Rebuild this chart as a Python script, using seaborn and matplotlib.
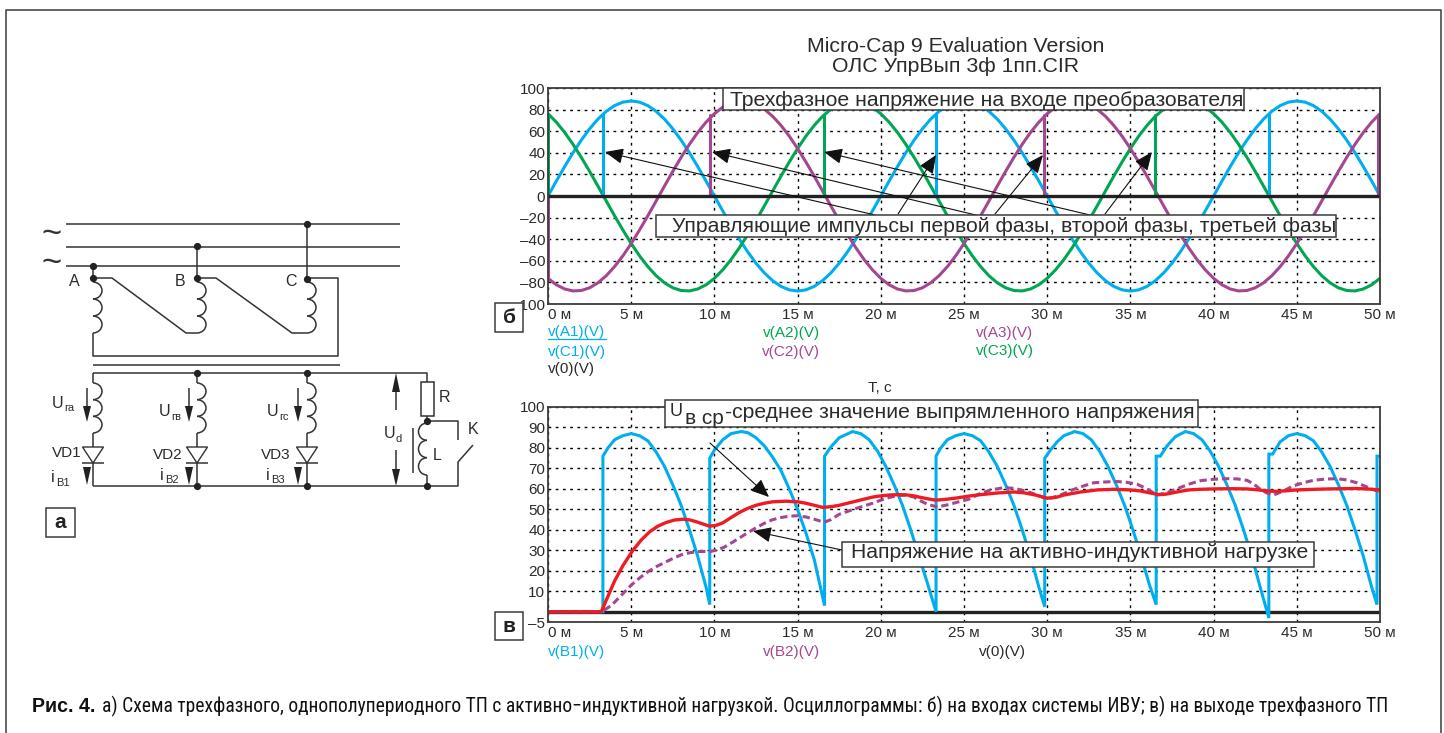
import numpy as np
import matplotlib
matplotlib.use("Agg")
import matplotlib.pyplot as plt
from matplotlib.patches import Rectangle, Arc, Polygon
import seaborn as sns

# ---------- data ----------
top_t = [i * 0.5 for i in range(101)]
v_a1 = [0,13.8,27.2,40,51.7,62.2,71.2,78.4,83.7,86.9,88,86.9,83.7,78.4,71.2,62.2,51.7,40,27.2,13.8,
        0,-13.8,-27.2,-40,-51.7,-62.2,-71.2,-78.4,-83.7,-86.9,-88,-86.9,-83.7,-78.4,-71.2,-62.2,-51.7,-40,-27.2,-13.8,
        0,13.8,27.2,40,51.7,62.2,71.2,78.4,83.7,86.9,88,86.9,83.7,78.4,71.2,62.2,51.7,40,27.2,13.8,
        0,-13.8,-27.2,-40,-51.7,-62.2,-71.2,-78.4,-83.7,-86.9,-88,-86.9,-83.7,-78.4,-71.2,-62.2,-51.7,-40,-27.2,-13.8,
        0,13.8,27.2,40,51.7,62.2,71.2,78.4,83.7,86.9,88,86.9,83.7,78.4,71.2,62.2,51.7,40,27.2,13.8,0]
v_a2 = [76.2,68.4,58.9,47.9,35.8,22.8,9.2,-4.6,-18.3,-31.5,-44,-55.4,-65.4,-73.8,-80.4,-85,-87.5,-87.9,-86.1,-82.2,
        -76.2,-68.4,-58.9,-47.9,-35.8,-22.8,-9.2,4.6,18.3,31.5,44,55.4,65.4,73.8,80.4,85,87.5,87.9,86.1,82.2,
        76.2,68.4,58.9,47.9,35.8,22.8,9.2,-4.6,-18.3,-31.5,-44,-55.4,-65.4,-73.8,-80.4,-85,-87.5,-87.9,-86.1,-82.2,
        -76.2,-68.4,-58.9,-47.9,-35.8,-22.8,-9.2,4.6,18.3,31.5,44,55.4,65.4,73.8,80.4,85,87.5,87.9,86.1,82.2,
        76.2,68.4,58.9,47.9,35.8,22.8,9.2,-4.6,-18.3,-31.5,-44,-55.4,-65.4,-73.8,-80.4,-85,-87.5,-87.9,-86.1,-82.2,-76.2]
v_a3 = [-76.2,-82.2,-86.1,-87.9,-87.5,-85,-80.4,-73.8,-65.4,-55.4,-44,-31.5,-18.3,-4.6,9.2,22.8,35.8,47.9,58.9,68.4,
        76.2,82.2,86.1,87.9,87.5,85,80.4,73.8,65.4,55.4,44,31.5,18.3,4.6,-9.2,-22.8,-35.8,-47.9,-58.9,-68.4,
        -76.2,-82.2,-86.1,-87.9,-87.5,-85,-80.4,-73.8,-65.4,-55.4,-44,-31.5,-18.3,-4.6,9.2,22.8,35.8,47.9,58.9,68.4,
        76.2,82.2,86.1,87.9,87.5,85,80.4,73.8,65.4,55.4,44,31.5,18.3,4.6,-9.2,-22.8,-35.8,-47.9,-58.9,-68.4,
        -76.2,-82.2,-86.1,-87.9,-87.5,-85,-80.4,-73.8,-65.4,-55.4,-44,-31.5,-18.3,-4.6,9.2,22.8,35.8,47.9,58.9,68.4,76.2]

c1_t = [3.3, 23.3, 43.3]
c1_v = [76, 76, 76]
c2_t = [0, 9.75, 29.8, 49.9]
c2_v = [-76, 75, 75, 75]
c3_t = [0, 16.6, 36.5]
c3_v = [76, 75, 75]

b1_t = [0,3.3,3.3,3.6,4,4.5,5,5.5,6,6.5,7,7.5,8,8.5,9,9.5,9.72,
        9.72,10,10.5,11,11.6,12,12.5,13,13.5,14,14.5,15,15.5,16,16.62,
        16.62,17,17.5,18.3,18.8,19.3,19.8,20.3,20.8,21.3,21.8,22.3,22.8,23.32,
        23.32,23.6,24,24.5,25,25.5,26,26.5,27,27.5,28,28.5,29,29.5,29.85,
        29.85,30.2,30.6,31,31.65,32.15,32.65,33.15,33.65,34.15,34.65,35.15,35.65,36.15,36.55,
        36.55,36.8,37.2,37.7,38.3,38.8,39.3,39.8,40.3,40.8,41.3,41.8,42.3,42.8,43.32,
        43.32,43.55,44,44.5,45,45.5,46,46.5,47,47.5,48,48.5,49,49.5,49.82,
        49.82,50]
b1_v = [0,0,76,80,84,86,87,86,83.5,78,71,62,52,40,27,12,3.5,
        75,79,84,87,88,87.5,85,81,75.5,69,60,50,38.5,25.5,3,
        76,80.5,85,88,87,84,78.5,71,62,52,40,27,14,0,
        76,80,84,86,87,86,83.5,78,71,62,52,40,27,12,2.5,
        75,79,83,86,88,87,84,78.4,71,62,52,40,27,13,3.5,
        76,76,81,85.5,88,87,84,78.4,71,62,52,40,27,12,-3,
        77,77,83,86,87,86,83.5,78,71,62,52,40,27,12,3.5,
        76,76]

b2_t = [0,3.2,3.5,3.8,4.4,5,5.5,6,6.5,7,7.5,8,8.5,9,9.8,10.2,10.6,11,11.5,12,12.5,13,13.5,14,14.5,15,15.5,16,16.6,
        17,17.5,18,18.5,19,19.5,20,20.5,21,21.5,22,22.3,22.8,23.4,24,24.5,25.3,25.9,26.6,27.4,28,28.7,29.4,30,
        30.8,31.6,32.2,32.8,33.5,34.2,34.8,35.4,36,36.6,37.2,37.8,38.5,39.2,40,40.8,41.4,42,42.4,42.8,43.2,43.6,
        44.2,44.8,45.4,46,46.7,47.4,48,48.6,49.2,49.8,50]
b2_v = [0,0,1.5,3,8,13,16.5,19.5,22,24,26,27.8,28.8,29.4,29.5,30.3,31.6,33.5,36,38.6,41,43.2,45,46,46.7,46.9,46.3,45.2,43.7,
        45,47.6,49,50.4,51.7,53,54.5,55.8,56.7,57,56,54.5,52.5,51.2,52.2,53.3,55,57.5,59.5,60.6,60.3,59,57,55,
        57,59.8,61.5,63,63.4,63.6,63.2,62.3,60,57,58.2,60,62.3,64,64.7,65,64.9,64.2,62.5,59.8,58,57,
        59,61.5,63,64.2,64.8,65,64.4,63,61,59,59]

ud_t = [0,3.2,3.6,4,4.5,5.1,5.6,6.1,6.6,7.1,7.6,8.1,8.5,8.9,9.3,9.7,10.1,10.5,11,11.5,12,12.5,13,13.5,14.3,15,15.5,16,16.5,
        17,17.5,18,18.5,19,19.5,20,20.5,21,21.5,22,22.3,22.8,23.3,24,24.5,25.3,26,27,28,28.6,29.3,30,30.5,31,32,33,34,35,35.6,36.2,
        36.7,37.1,37.5,38,38.5,39.2,40,41,42,42.6,43.2,43.8,44.4,45,46,47,48.5,49.2,50]
ud_v = [0,0,7.5,15,22.5,30,35,39,41.8,43.6,44.8,45.2,44.9,44,42.9,41.8,42.2,43.4,46,48.5,50.5,52,53,53.7,54,53.7,53,52,51,
        51.3,52,53,54,55,56,56.6,57,57.2,57.1,56.6,56,55.2,54.5,55,55.5,56.5,57.2,58,58.5,58.1,57,55.5,55.8,57,58.5,59.5,59.8,59.5,59,58,
        57.2,57.4,58,58.8,59.5,59.8,60,60.1,60,59.6,59,58.8,59.1,59.5,59.8,60,60.2,60,59.5]

zero_t = [0, 50]
zero_v = [0, 0]

x_ticks = [0, 5, 10, 15, 20, 25, 30, 35, 40, 45, 50]
x_labels = ["0 м", "5 м", "10 м", "15 м", "20 м", "25 м", "30 м", "35 м", "40 м", "45 м", "50 м"]
top_y_ticks = [-100, -80, -60, -40, -20, 0, 20, 40, 60, 80, 100]
top_y_labels = ["–100", "–80", "–60", "–40", "–20", "0", "20", "40", "60", "80", "100"]
bot_y_ticks = [-5, 10, 20, 30, 40, 50, 60, 70, 80, 90, 100]
bot_y_labels = ["–5", "10", "20", "30", "40", "50", "60", "70", "80", "90", "100"]

# ---------- style ----------
BLUE, GREEN, MAG, RED = "#00AEEF", "#00A651", "#A5478F", "#ED1C24"
DARK = "#3c3c3c"
TXT = "#2b2b2b"
W, H = 1444, 733
sns.set_theme(style="white")
plt.rcParams["font.family"] = ["Liberation Sans", "DejaVu Sans"]
fig = plt.figure(figsize=(W / 100, H / 100), dpi=100, facecolor="white")

def make_axes(l, t, r, b):
    ax = fig.add_axes([l / W, 1 - b / H, (r - l) / W, (b - t) / H])
    ax.set_xlim(0, 50)
    ax.set_xticks(x_ticks)
    ax.set_xticklabels(x_labels, fontsize=11, color=TXT)
    ax.tick_params(axis="both", length=0, labelsize=11, colors=TXT)
    ax.tick_params(axis="x", pad=3)
    ax.tick_params(axis="y", pad=2)
    ax.xaxis.get_majorticklabels()[0].set_ha("left")
    ax.grid(True, color="black", linewidth=1.0, linestyle=(0, (2, 3.2)))
    ax.set_axisbelow(True)
    for s in ax.spines.values():
        s.set_color(DARK)
        s.set_linewidth(1.3)
    return ax

def line(ax, x, y, color, lw=2.2, **kw):
    sns.lineplot(x=x, y=y, color=color, ax=ax, estimator=None, sort=False, errorbar=None,
                 linewidth=lw, legend=False, solid_joinstyle="miter", **kw)

# top oscillogram
ax1 = make_axes(548, 88, 1380, 304)
ax1.set_ylim(-100, 100)
ax1.set_yticks(top_y_ticks)
ax1.set_yticklabels(top_y_labels)
line(ax1, top_t, v_a1, BLUE)
line(ax1, top_t, v_a2, GREEN)
line(ax1, top_t, v_a3, MAG)
for ts, vs, c in ((c1_t, c1_v, BLUE), (c2_t, c2_v, MAG), (c3_t, c3_v, GREEN)):
    for t_, v_ in zip(ts, vs):
        line(ax1, [t_, t_], [0, v_], c)
line(ax1, zero_t, zero_v, "#222222", lw=2.4)

# bottom oscillogram
ax2 = make_axes(548, 407, 1380, 622)
ax2.set_ylim(-5, 100)
ax2.set_yticks(bot_y_ticks)
ax2.set_yticklabels(bot_y_labels)
line(ax2, zero_t, zero_v, "#222222", lw=2.4)
line(ax2, b1_t, b1_v, BLUE)
sns.lineplot(x=b2_t, y=b2_v, color=MAG, ax=ax2, estimator=None, sort=False, errorbar=None,
             linewidth=2.2, linestyle=(0, (2.4, 1.3)), legend=False)
line(ax2, ud_t, ud_v, RED, lw=2.4)

# ---------- overlay in picture pixels: schematic, notes, frame ----------
ov = fig.add_axes([0, 0, 1, 1], zorder=5, facecolor="none")
ov.set_xlim(0, W)
ov.set_ylim(H, 0)
ov.axis("off")
renderer = fig.canvas.get_renderer()

def fit(txt, x0, x1, y, **kw):
    """Text from x0 to x1 px, vertically centred on y."""
    t = ov.text(x0, y, txt, ha="left", va="center", color=kw.pop("color", TXT), zorder=12, **kw)
    w = t.get_window_extent(renderer).width
    t.set_fontsize(t.get_fontsize() * (x1 - x0) / w)
    return t

def label(x, y, txt, size=11, ha="center", color=TXT, **kw):
    return ov.text(x, y, txt, fontsize=size, ha=ha, va="center", color=color, zorder=12, **kw)

def note_box(l, t, r, b):
    ov.add_patch(Rectangle((l, t), r - l, b - t, fc="white", ec=DARK, lw=1.1, zorder=10))

def arrow(tail, tip):
    ov.annotate("", xy=tip, xytext=tail, zorder=8, annotation_clip=False,
                arrowprops=dict(arrowstyle="-|>,head_length=0.75,head_width=0.32", mutation_scale=15,
                                color="#111111", lw=0.8, shrinkA=0, shrinkB=0))

# outer frame (open at the bottom)
ov.plot([6, 6, 1441, 1441], [H, 10, 10, H], color="#4a4a4a", lw=1.2, zorder=1)

# titles and axis text
fit("Micro-Cap 9 Evaluation Version", 807, 1104, 46, fontsize=13)
fit("ОЛС УпрВып 3ф 1пп.CIR", 832, 1077, 66.5, fontsize=13)
label(880, 388, "Т, с", size=11)

# legends under the plots
for x, y, s, c in ((548, 332, "v(A1)(V)", BLUE), (548, 352, "v(C1)(V)", BLUE), (548, 369, "v(0)(V)", TXT),
                   (763, 333, "v(A2)(V)", GREEN), (762, 352, "v(C2)(V)", MAG),
                   (976, 333, "v(A3)(V)", MAG), (976, 351, "v(C3)(V)", GREEN),
                   (548, 652, "v(B1)(V)", BLUE), (763, 652, "v(B2)(V)", MAG), (979, 652, "v(0)(V)", TXT)):
    label(x, y, s, size=11, ha="left", color=c)
ov.plot([548, 606], [339, 339], color=BLUE, lw=0.9, zorder=12)

# arrows and note boxes
for tail, tip in (((875, 215), (605, 152)), ((980, 216), (712, 152)), ((1090, 215), (824, 152)),
                  ((898, 214), (936, 155)), ((995, 214), (1043, 155)), ((1105, 214), (1152, 152)),
                  ((710, 443), (769, 497)), ((842, 550), (753, 531))):
    arrow(tail, tip)
note_box(723, 88, 1244, 110)
fit("Трехфазное напряжение на входе преобразователя", 730, 1241, 100, fontsize=13)
note_box(656, 215, 1336, 237)
fit("Управляющие импульсы первой фазы, второй фазы, третьей фазы", 672, 1333, 226, fontsize=13)
note_box(665, 400, 1198, 427)
fit("U", 670, 683, 412, fontsize=13)
fit("в ср", 685, 724, 418, fontsize=13)
fit("-среднее значение выпрямленного напряжения", 725, 1194, 412, fontsize=13)
note_box(842, 542, 1314, 567)
fit("Напряжение на активно-индуктивной нагрузке", 851, 1307, 553, fontsize=13)

# corner boxes
for l, t, r, b, s in ((495, 303, 523, 332, "б"), (495, 612, 523, 640, "в"), (46, 508, 75, 537, "а")):
    note_box(l, t, r, b)
    label((l + r) / 2, (t + b) / 2, s, size=15, fontweight="bold", color="#222222")

# schematic
WIRE = dict(color="#333333", lw=1.1, zorder=3, solid_capstyle="butt")
def wire(xs, ys):
    ov.plot(xs, ys, **WIRE)
def dot(x, y):
    ov.plot([x], [y], "o", ms=4.2, color="#222222", zorder=6)
def coil(x, y0, y1, side=1, n=3, rx=9):
    h = (y1 - y0) / n
    for i in range(n):
        th = (-90, 90) if side > 0 else (90, 270)
        ov.add_patch(Arc((x, y0 + (i + 0.5) * h), 2 * rx, h, theta1=th[0], theta2=th[1],
                         color="#333333", lw=1.1, zorder=3))
def wedge(x, y_base, y_tip, half=4):
    ov.add_patch(Polygon([(x - half, y_base), (x + half, y_base), (x, y_tip)], fc="#222222", ec="none", zorder=5))
def diode(x):
    wire([x, x], [433, 486])
    ov.add_patch(Polygon([(x - 10.5, 447), (x + 10.5, 447), (x, 463)], fc="white", ec="#333333", lw=1.0, zorder=4))
    wire([x - 11, x + 11], [463, 463])

for y in (224, 247, 266):
    wire([66, 400], [y, y])
for x, y in ((307, 224), (197, 246), (93, 266), (93, 278), (197, 278), (307, 279),
             (197, 373), (307, 373), (197, 486), (307, 486), (427, 486), (427, 421)):
    dot(x, y)
wire([93, 93], [266, 282]); wire([197, 197], [246, 282]); wire([307, 307], [224, 282])
coil(93, 282, 333); coil(197, 282, 333); coil(307, 282, 333)
wire([93, 112, 186, 197], [278, 278, 333, 333])
wire([197, 216, 292, 307], [278, 278, 333, 333])
wire([307, 338, 338, 93, 93], [278, 278, 356, 356, 333])
wire([93, 340], [365, 365])
wire([93, 427, 427], [373, 373, 382])
for x in (93, 197, 307):
    wire([x, x], [373, 383])
    coil(x, 383, 433)
    diode(x)
wire([93, 458, 458, 473], [486, 486, 462, 445])
ov.add_patch(Rectangle((421, 382), 13, 34, fc="white", ec="#333333", lw=1.1, zorder=3))
wire([427, 427], [416, 423])
coil(427, 423, 475, side=-1, rx=8.5)
wire([427, 427], [475, 486])
wire([413, 413], [428, 473])
wire([427, 458, 458], [421, 421, 440])
for x in (87, 189, 298):
    wire([x, x], [388, 408])
    wedge(x, 406, 422)
    wedge(x, 467, 485)
wire([396, 396], [390, 410]); wedge(396, 392, 373)
wire([396, 396], [450, 471]); wedge(396, 469, 486)

for x, y, s in ((74, 282, "A"), (180, 282, "B"), (291, 282, "C"), (445, 398, "R"), (437, 455, "L"), (473, 430, "K")):
    label(x, y, s, size=11.5)
for x, y, s in ((52, 453, "VD1"), (153, 455, "VD2"), (261, 455, "VD3")):
    label(x, y, s, size=11, ha="left")
for x, y, s in ((58, 403, "га"), (165, 412, "гв"), (273, 412, "гс")):
    label(x, y, "U", size=11.5)
    label(x + 6, y + 5, s, size=8, ha="left")
for x, y, s in ((53, 478, "B1"), (162, 475, "B2"), (268, 475, "B3")):
    label(x, y, "i", size=11.5)
    label(x + 3, y + 5, s, size=8, ha="left")
label(390, 434, "U", size=11.5)
label(396, 439, "d", size=8, ha="left")
ov.text(52, 249, "~\n~", fontsize=25, ha="center", va="center", color="#333333",
        linespacing=0.83, zorder=12)

# caption
fit("Рис. 4.", 32, 95, 706, fontsize=12, fontweight="bold", color="#111111")
fit("а) Схема трехфазного, однополупериодного ТП с активно−индуктивной нагрузкой. Осциллограммы: "
    "б) на входах системы ИВУ; в) на выходе трехфазного ТП", 102, 1396, 706, fontsize=14, color="#111111",
    family=["Liberation Sans Narrow", "Roboto Condensed", "Liberation Sans"])

fig.savefig("out.png", dpi=100, facecolor="white")
